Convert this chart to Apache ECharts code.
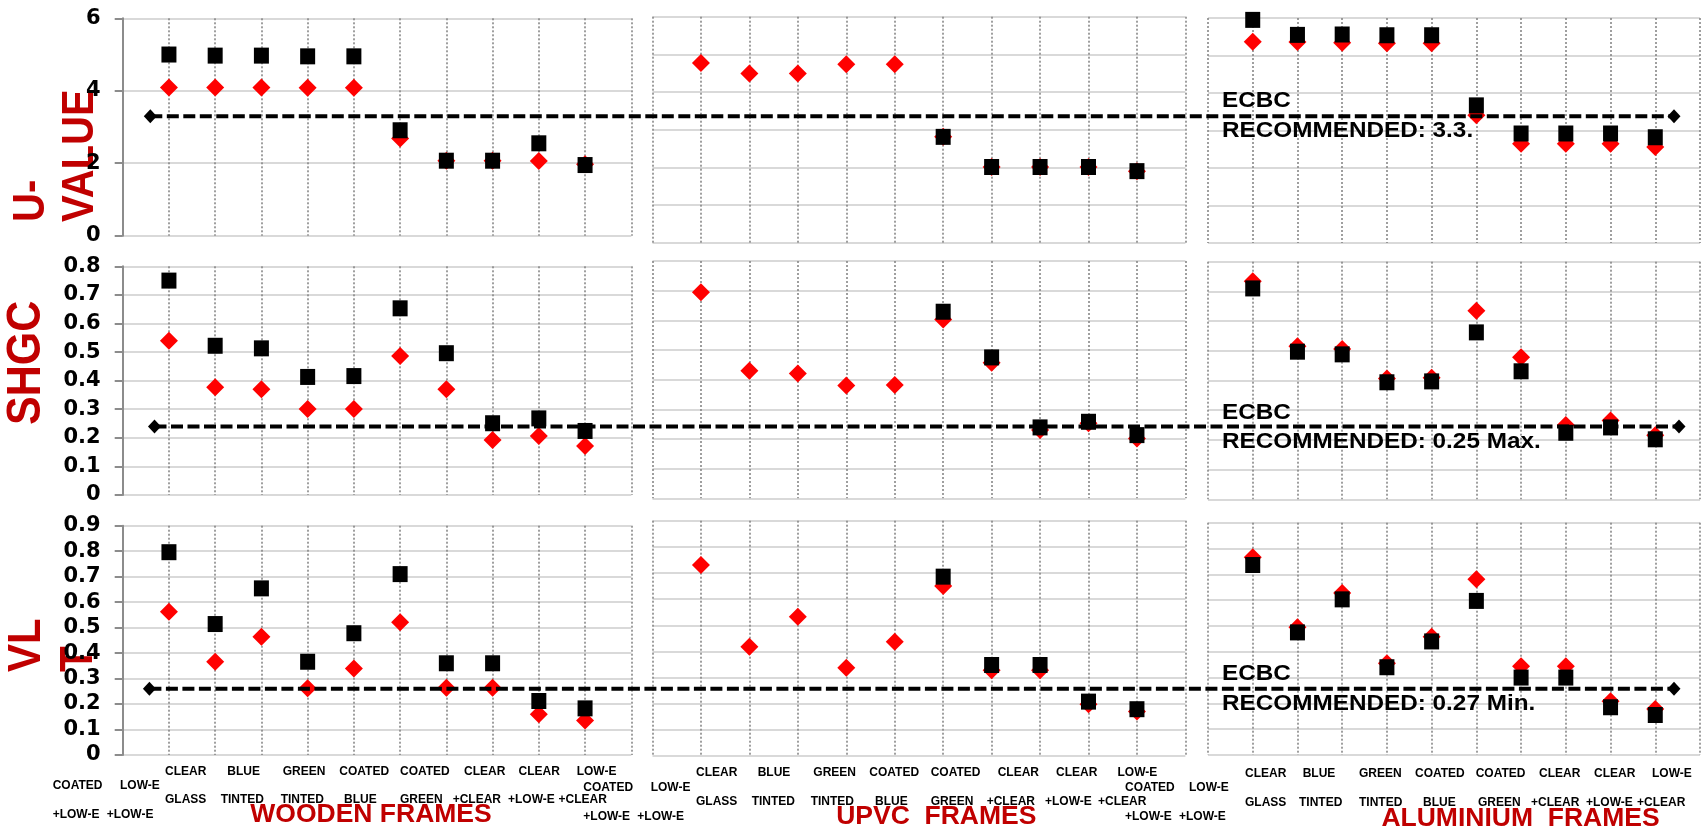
<!DOCTYPE html>
<html><head><meta charset="utf-8">
<script src="https://cdn.jsdelivr.net/npm/echarts@6/dist/echarts.min.js"></script>
<style>html,body{margin:0;padding:0;background:#fff}#c{width:1701px;height:830px}</style>
</head><body><div id="c"></div>
<script>
// ---------------- DATA ----------------
const categories = ['CLEAR GLASS','BLUE TINTED','GREEN TINTED','COATED BLUE','COATED GREEN','CLEAR +CLEAR','CLEAR +LOW-E','LOW-E +CLEAR','COATED +LOW-E','LOW-E +LOW-E'];
const frameTypes = ['WOODEN FRAMES','UPVC  FRAMES','ALUMINIUM  FRAMES'];
const metricTitles = ['U-\nVALUE','SHGC','VL\nT'];
const ecbcValues = [3.3, 0.24, 0.26];
const ecbcTexts = ['ECBC\nRECOMMENDED: 3.3.','ECBC\nRECOMMENDED: 0.25 Max.','ECBC\nRECOMMENDED: 0.27 Min.'];
const yMax = [6, 0.8, 0.9];
const yLabelStep = [2, 0.1, 0.1];
const yGridStep = [1, 0.1, 0.1];

const uWoodRed   = [4.09, 4.09, 4.09, 4.08, 4.08, 2.68, 2.07, 2.07, 2.06, 1.97];
const uWoodBlack = [5.00, 4.97, 4.97, 4.95, 4.95, 2.91, 2.07, 2.07, 2.55, 1.95];
const uUpvcRed   = [4.77, 4.49, 4.49, 4.74, 4.74, 2.81, 2.01, 2.01, 2.01, 1.90];
const uUpvcBlack = [null, null, null, null, null, 2.81, 2.01, 2.01, 2.01, 1.90];
const uAlumRed   = [5.37, 5.36, 5.34, 5.33, 5.33, 3.41, 2.65, 2.65, 2.65, 2.56];
const uAlumBlack = [5.95, 5.55, 5.56, 5.54, 5.54, 3.67, 2.92, 2.92, 2.92, 2.82];

const shgcWoodRed   = [0.540, 0.377, 0.370, 0.301, 0.301, 0.486, 0.370, 0.192, 0.206, 0.171];
const shgcWoodBlack = [0.750, 0.522, 0.513, 0.413, 0.416, 0.653, 0.496, 0.251, 0.268, 0.224];
const shgcUpvcRed   = [0.695, 0.430, 0.421, 0.380, 0.382, 0.603, 0.457, 0.230, 0.253, 0.202];
const shgcUpvcBlack = [null, null, null, null, null, 0.629, 0.475, 0.239, 0.258, 0.213];
const shgcAlumRed   = [0.734, 0.515, 0.506, 0.407, 0.409, 0.635, 0.478, 0.250, 0.265, 0.216];
const shgcAlumBlack = [0.710, 0.497, 0.488, 0.394, 0.397, 0.562, 0.431, 0.224, 0.242, 0.202];

const vltWoodRed   = [0.562, 0.366, 0.464, 0.262, 0.340, 0.521, 0.264, 0.264, 0.160, 0.135];
const vltWoodBlack = [0.796, 0.514, 0.654, 0.366, 0.478, 0.710, 0.360, 0.360, 0.212, 0.183];
const vltUpvcRed   = [0.731, 0.418, 0.533, 0.338, 0.437, 0.650, 0.328, 0.328, 0.198, 0.170];
const vltUpvcBlack = [null, null, null, null, null, 0.686, 0.348, 0.348, 0.208, 0.179];
const vltAlumRed   = [0.766, 0.495, 0.628, 0.355, 0.458, 0.681, 0.344, 0.344, 0.208, 0.178];
const vltAlumBlack = [0.736, 0.475, 0.603, 0.340, 0.440, 0.597, 0.300, 0.300, 0.185, 0.155];

const redSets   = [[uWoodRed, uUpvcRed, uAlumRed],[shgcWoodRed, shgcUpvcRed, shgcAlumRed],[vltWoodRed, vltUpvcRed, vltAlumRed]];
const blackSets = [[uWoodBlack, uUpvcBlack, uAlumBlack],[shgcWoodBlack, shgcUpvcBlack, shgcAlumBlack],[vltWoodBlack, vltUpvcBlack, vltAlumBlack]];

// ---------------- LAYOUT ----------------
const W = 1701, H = 830;
const panelX = [[122.7, 631.3],[652.5, 1185.4],[1208, 1700]];
const panelY = [
  [[18.3,235.7],[16.7,242.7],[18,243]],
  [[266.3,495],[261,498.3],[261.7,499.3]],
  [[525.7,755],[520.7,756],[522.7,755]]
];
const ecbcX = [[150.3,1674],[154.5,1679],[149.4,1674]];
const ecbcTextPos = [[1222,115.9],[1222,427.6],[1222,688.7]];
const titlePos = [[56.5,222,40,45],[27,425,43,45],[53,672,42,47.3]];
const frameTitlePos = [[371,814.7],[936.3,816.3],[1520.5,819]];
const labelRowsY = [[771.7,799.3],[772.7,801.7],[774,802.7]];
const labelTopX = [[165,227.3,282.7,339.3,400,464,518.5,576.7],[696,757.7,813.3,869.3,930.7,997.7,1056,1117.5],[1245,1302.7,1359,1415,1475.7,1539,1594,1652]];
const labelBotX = [[165,220.7,280.7,344,400,452.7,508,558.5],[696,751.7,810.7,875,930.7,986.7,1045,1098],[1245,1299,1359,1423,1478,1531,1586,1637]];
const extraPairs = [ // [x9top, x10top, x9bot, x10bot, yTop, yBot]
  [52.7,120,52.7,106.7,786,815],
  [583.3,650.7,583.3,637.3,787.7,816.7],
  [1125,1189,1125,1179,788,817]
];

const RED_T = '#C00000';
const ARIAL = '"Liberation Sans", Arial, sans-serif';

const grids = [], xAxes = [], yAxes = [], series = [], graphics = [];
const toPts = arr => arr.map((v, i) => v == null ? null : [i + 1, v]).filter(Boolean);

for (let r = 0; r < 3; r++) {
  for (let p = 0; p < 3; p++) {
    const g = grids.length;
    const [l, rt] = panelX[p];
    const [t, b] = panelY[r][p];
    grids.push({left: l, top: t, width: rt - l, height: b - t, outerBoundsMode: 'none', containLabel: false});
    const xi = xAxes.length;
    xAxes.push({gridIndex: g, type: 'value', min: 0, max: 11, interval: 1,
      axisLine: {show: false}, axisTick: {show: false}, axisLabel: {show: false},
      splitLine: {show: true, lineStyle: {color: '#808080', width: 1.5, type: [2, 2]}}});
    const yi = yAxes.length;
    // gridline axis (behind marks)
    yAxes.push({gridIndex: g, type: 'value', min: 0, max: yMax[r],
      interval: p === 0 ? yLabelStep[r] : yGridStep[r],
      axisLine: {show: false}, axisTick: {show: false}, axisLabel: {show: false},
      splitLine: {show: true, lineStyle: {color: '#d9d9d9', width: 2}}});
    if (p === 0) {
      // labelled axis on top of the rotated titles
      yAxes.push({gridIndex: g, type: 'value', min: 0, max: yMax[r], interval: yLabelStep[r], z: 10,
        position: 'left',
        axisLine: {show: true, lineStyle: {color: '#8c8c8c', width: 2}},
        axisTick: {show: true, length: 8, lineStyle: {color: '#8c8c8c', width: 2}},
        axisLabel: {show: true, margin: 22, color: '#000', fontWeight: 'bold', fontSize: 21, fontFamily: '"DejaVu Sans", sans-serif'},
        splitLine: {show: false}});
    }
    series.push({type: 'scatter', xAxisIndex: xi, yAxisIndex: yi, symbol: 'diamond', symbolSize: [18, 18],
      itemStyle: {color: '#ff0000', opacity: 1}, z: 3, silent: true, data: toPts(redSets[r][p])});
    series.push({type: 'scatter', xAxisIndex: xi, yAxisIndex: yi, symbol: 'rect', symbolSize: [15, 16],
      itemStyle: {color: '#000000', opacity: 1}, z: 4, silent: true, data: toPts(blackSets[r][p])});
  }
}
// ECBC overlay grids
for (let r = 0; r < 3; r++) {
  const g = grids.length;
  const [l, rt] = ecbcX[r];
  const [t, b] = panelY[r][0];
  grids.push({left: l, top: t, width: rt - l, height: b - t, outerBoundsMode: 'none', containLabel: false});
  const xi = xAxes.length, yi = yAxes.length;
  xAxes.push({gridIndex: g, type: 'value', min: 0, max: 1, show: false});
  yAxes.push({gridIndex: g, type: 'value', min: 0, max: yMax[r], show: false});
  series.push({type: 'line', xAxisIndex: xi, yAxisIndex: yi, z: 8, silent: true,
    symbol: 'diamond', symbolSize: [13, 14], showAllSymbol: true,
    itemStyle: {color: '#000', opacity: 1}, lineStyle: {color: '#000', width: 4, type: [12, 4.5]},
    data: [[0, ecbcValues[r]], [1, ecbcValues[r]]]});
}

// metric titles (rotated)
for (let r = 0; r < 3; r++) {
  const [x, y, fs, lh] = titlePos[r];
  graphics.push({type: 'text', x: x, y: y, rotation: Math.PI / 2, scaleY: 1.1, z: 1, silent: true,
    style: {text: metricTitles[r], fill: RED_T, font: 'bold ' + fs + 'px ' + ARIAL,
      align: 'left', verticalAlign: 'middle', lineHeight: lh}});
}
// ECBC texts
for (let r = 0; r < 3; r++) {
  const [x, y] = ecbcTextPos[r];
  graphics.push({type: 'text', x: x, y: y, scaleX: 1.08, z: 20, silent: true,
    style: {text: ecbcTexts[r], fill: '#000', font: 'bold 22.5px ' + ARIAL,
      align: 'left', verticalAlign: 'middle', lineHeight: 29.3}});
}
// frame titles
for (let p = 0; p < 3; p++) {
  const [x, y] = frameTitlePos[p];
  graphics.push({type: 'text', x: x, y: y, z: 1, silent: true,
    style: {text: frameTypes[p], fill: RED_T, font: 'bold 26.5px ' + ARIAL, align: 'center', verticalAlign: 'middle'}});
}
// category labels
const lbl = (text, x, y) => graphics.push({type: 'text', x: x, y: y, z: 2, silent: true,
  style: {text: text, fill: '#000', font: 'bold 12px ' + ARIAL, align: 'left', verticalAlign: 'middle'}});
for (let p = 0; p < 3; p++) {
  for (let i = 0; i < 8; i++) {
    const parts = categories[i].split(' ');
    lbl(parts[0], labelTopX[p][i], labelRowsY[p][0]);
    lbl(parts[1], labelBotX[p][i], labelRowsY[p][1]);
  }
  const e = extraPairs[p];
  const c9 = categories[8].split(' '), c10 = categories[9].split(' ');
  lbl(c9[0], e[0], e[4]); lbl(c10[0], e[1], e[4]);
  lbl(c9[1], e[2], e[5]); lbl(c10[1], e[3], e[5]);
}

const chart = echarts.init(document.getElementById('c'), null, {renderer: 'canvas', width: W, height: H});
chart.setOption({
  animation: false,
  backgroundColor: '#fff',
  grid: grids, xAxis: xAxes, yAxis: yAxes, series: series,
  graphic: graphics
});
</script></body></html>
